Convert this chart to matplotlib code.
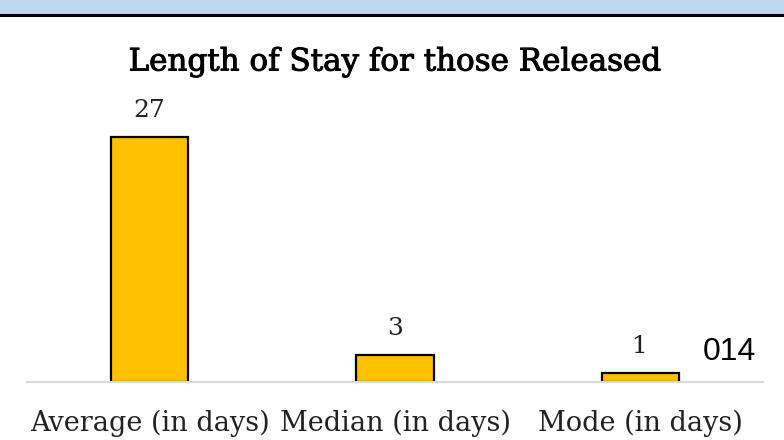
import matplotlib
matplotlib.use("Agg")
import matplotlib.pyplot as plt
import matplotlib.patheffects as pe
from matplotlib.patches import Rectangle

categories = ["Average (in days)", "Median (in days)", "Mode (in days)"]
values = [27, 3, 1]
title = "Length of Stay for those Released"
side_note = "014"

W, H = 784, 440
fig = plt.figure(figsize=(W/100, H/100), dpi=100)
fig.patch.set_facecolor("white")

# top band
fig.patches.append(Rectangle((0, 1 - 14/H), 1, 14/H, transform=fig.transFigure,
                             facecolor="#BDD7EE", edgecolor="none", zorder=0))
fig.lines.append(plt.Line2D([0, 1], [1 - 15/H, 1 - 15/H], transform=fig.transFigure,
                            color="black", linewidth=2.2))

ax = fig.add_axes([27/W, 1 - 382/H, 736/W, (382 - 110)/H])
x = list(range(len(categories)))
bars = ax.bar(x, values, width=0.314, color="#FFC000", edgecolor="black", linewidth=1.6, zorder=2)
ax.set_xlim(-0.5, 2.5)
ax.set_ylim(0, 30)
for s in ["top", "right", "left"]:
    ax.spines[s].set_visible(False)
ax.spines["bottom"].set_color("#D9D9D9")
ax.spines["bottom"].set_linewidth(1.5)
ax.set_yticks([])
ax.set_xticks(x)
ax.set_xticklabels(categories, fontfamily="DejaVu Serif", fontsize=19.5, color="#222222")
ax.tick_params(axis="x", length=0, pad=20)
ax.patch.set_alpha(0)

for xi, v in zip(x, values):
    ax.annotate(str(v), (xi, v), xytext=(0, 11), textcoords="offset points",
                ha="center", va="bottom", fontfamily="DejaVu Serif", fontsize=18, color="#222222")

fig.text(395/W, 1 - 62/H, title, ha="center", va="center",
         fontfamily="DejaVu Serif", fontsize=22.3, color="black",
         path_effects=[pe.withStroke(linewidth=0.7, foreground="black")])
fig.text(729/W, 1 - 352/H, side_note, ha="center", va="center",
         fontfamily="Liberation Sans", fontsize=23, color="black")

fig.savefig("out.png", dpi=100)
